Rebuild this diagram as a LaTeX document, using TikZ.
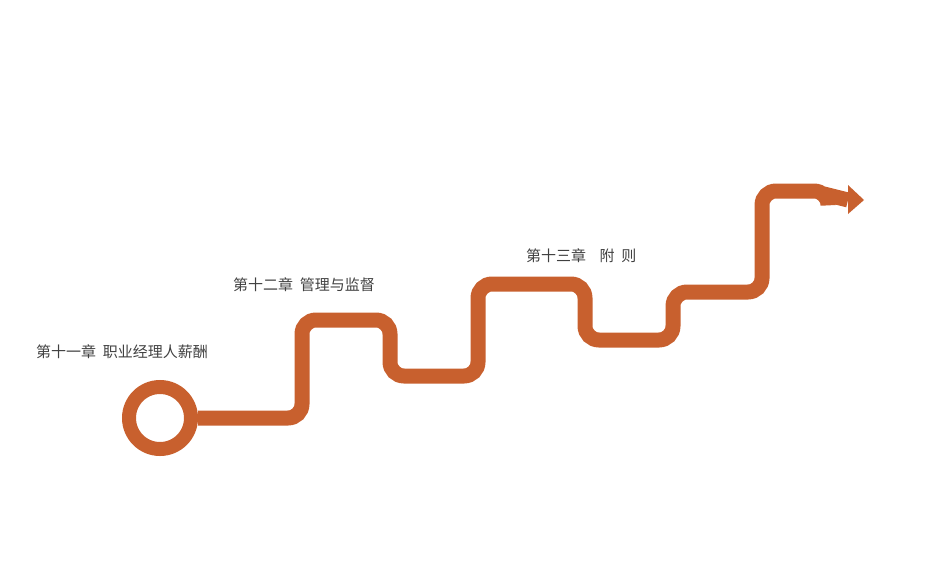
\documentclass[tikz,border=0pt]{standalone}
\usepackage{fontspec}
\newfontfamily\cjk{Noto Sans CJK SC}
\definecolor{road}{HTML}{C8602E}
\definecolor{txt}{HTML}{404040}
\begin{document}
\begin{tikzpicture}[x=1pt,y=-1pt,
  lbl/.style={font=\cjk\fontsize{15}{18}\selectfont,text=txt,anchor=west,inner sep=0}]
\useasboundingbox (0,0) rectangle (952,576);
\node[circle,draw=road,line width=14pt,minimum size=62pt,inner sep=0] (c) at (160,418) {};
\coordinate (e) at (848,200);
\draw[road,line width=15pt,rounded corners=14pt]
  (c.east) -- (302,418) -- (302,320) -- (390,320) -- (390,376) -- (478,376)
  -- (478,284) -- (585,284) -- (585,340) -- (673,340) -- (673,292) -- (762,292)
  -- (762,191) -- (828,191) [sharp corners] -- (828,195) -- (e);
\fill[road] (848,185) -- (864,200) -- (848,214) -- cycle;
\node[lbl] (t1) at (36,352) {第十一章\ \ 职业经理人薪酬};
\node[lbl] (t2) at (233,285) {第十二章\ \ 管理与监督};
\node[lbl] (t3) at (526,256) {第十三章\ \ \ \ 附\ \ 则};
\end{tikzpicture}
\end{document}
